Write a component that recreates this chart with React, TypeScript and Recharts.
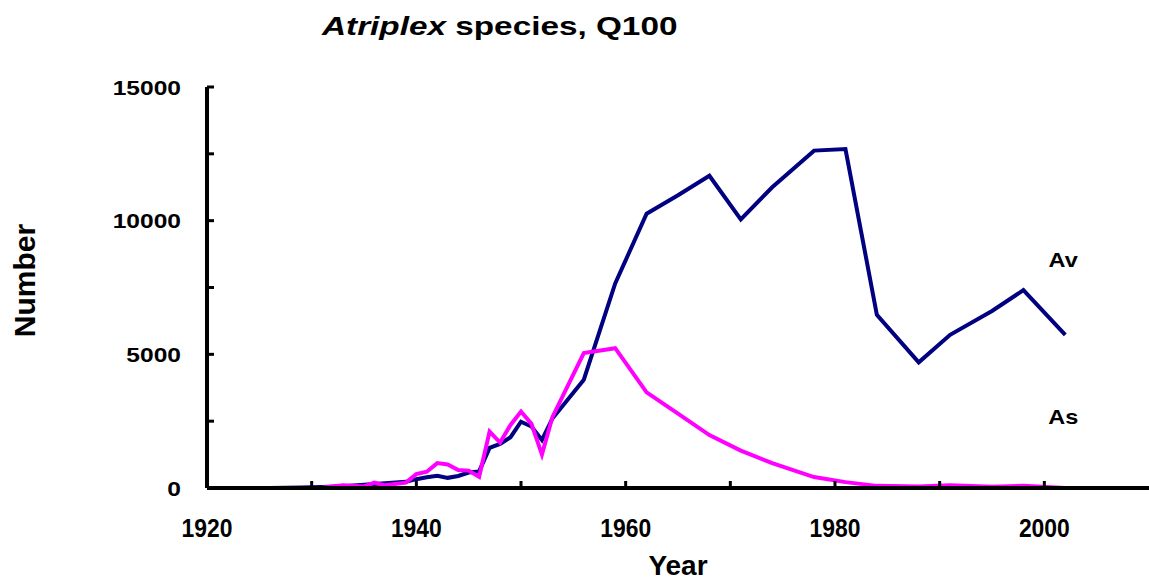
import React from 'react';
import { LineChart, Line, XAxis, YAxis, ReferenceDot } from 'recharts';

const FONT = '"Liberation Sans", Arial, sans-serif';

// survey years (both species share the same sampling years)
const years = [
  1926, 1929, 1931, 1933, 1935, 1936, 1937, 1939, 1940, 1941, 1942, 1943, 1944, 1945, 1946,
  1947, 1948, 1949, 1950, 1951, 1952, 1953, 1956, 1959, 1962, 1965, 1968, 1971, 1974, 1978,
  1981, 1984, 1988, 1991, 1995, 1998, 2002,
];
const avValues = [
  0, 20, 40, 70, 120, 150, 180, 230, 330, 400, 460, 380, 450, 580, 620,
  1500, 1650, 1900, 2480, 2300, 1800, 2600, 4050, 7650, 10260, 10950, 11680, 10050, 11250, 12620,
  12680, 6480, 4700, 5730, 6620, 7400, 5730,
];
const asValues = [
  0, 0, 10, 100, 60, 200, 100, 200, 520, 610, 930, 880, 670, 650, 420,
  2110, 1700, 2360, 2860, 2400, 1250, 2650, 5050, 5230, 3580, 2780, 1980, 1400, 930, 410,
  220, 80, 60, 100, 50, 80, 0,
];

const xTicks = [1920, 1930, 1940, 1950, 1960, 1970, 1980, 1990, 2000];
const xTickLabels = [1920, 1940, 1960, 1980, 2000];
const yTicks = [0, 2500, 5000, 7500, 10000, 12500, 15000];
const yTickLabels = [0, 5000, 10000, 15000];

const seriesLabels = [
  { name: 'Av', year: 2001.8, value: 8530 },
  { name: 'As', year: 2001.8, value: 2690 },
];

const data = years.map((year, i) => ({ year, Av: avValues[i], As: asValues[i] }));

const XTick = (props: any) => {
  const { x, y, payload } = props;
  const show = xTickLabels.includes(payload.value);
  return (
    <g>
      <line x1={x} y1={y} x2={x} y2={y - 7} stroke="#000" strokeWidth={3} />
      {show && (
        <text
          transform={`translate(${x},${y + 49}) scale(0.88,1)`}
          textAnchor="middle"
          fontSize={26}
          fontWeight="bold"
          fontFamily={FONT}
          fill="#000"
        >
          {payload.value}
        </text>
      )}
    </g>
  );
};

const YTick = (props: any) => {
  const { x, y, payload } = props;
  const show = yTickLabels.includes(payload.value);
  return (
    <g>
      <line x1={x} y1={y} x2={x + 7} y2={y} stroke="#000" strokeWidth={3} />
      {show && (
        <text
          transform={`translate(${x - 26},${y + 7.5}) scale(1.17,1)`}
          textAnchor="end"
          fontSize={21}
          fontWeight="bold"
          fontFamily={FONT}
          fill="#000"
        >
          {payload.value}
        </text>
      )}
    </g>
  );
};

const seriesLabel = (text: string) => (props: any) => {
  const vb = props.viewBox;
  const cx = vb.x + vb.width / 2;
  const cy = vb.y + vb.height / 2;
  return (
    <text
      transform={`translate(${cx},${cy + 7.5}) scale(1.12,1)`}
      textAnchor="middle"
      fontSize={21}
      fontWeight="bold"
      fontFamily={FONT}
      fill="#000"
    >
      {text}
    </text>
  );
};

export default function App() {
  return (
    <div style={{ position: 'absolute', left: 0, top: 0, width: 1149, height: 582, background: '#fff' }}>
      <svg width={1149} height={60} style={{ position: 'absolute', left: 0, top: 0 }}>
        <text
          transform="translate(322,35) scale(1.333,1)"
          fontSize={25}
          fontWeight="bold"
          fontFamily={FONT}
          fill="#000"
        >
          <tspan fontStyle="italic">Atriplex</tspan> species, Q100
        </text>
      </svg>
      <LineChart
        width={1149}
        height={582}
        data={data}
        margin={{ top: 87, right: 0, left: 0, bottom: 0 }}
        style={{ position: 'absolute', left: 0, top: 0 }}
      >
        <XAxis
          dataKey="year"
          type="number"
          domain={[1920, 2010]}
          ticks={xTicks}
          interval={0}
          height={94}
          tickSize={0}
          tickMargin={0}
          tickLine={false}
          tick={<XTick />}
          axisLine={{ stroke: '#000', strokeWidth: 4 }}
          allowDataOverflow
          label={{
            content: (p: any) => (
              <text
                x={p.viewBox.x + p.viewBox.width / 2}
                y={p.viewBox.y + 87}
                textAnchor="middle"
                fontSize={28}
                fontWeight="bold"
                fontFamily={FONT}
                fill="#000"
              >
                Year
              </text>
            ),
          }}
        />
        <YAxis
          type="number"
          domain={[0, 15000]}
          ticks={yTicks}
          interval={0}
          width={207}
          tickSize={0}
          tickMargin={0}
          tickLine={false}
          tick={<YTick />}
          axisLine={{ stroke: '#000', strokeWidth: 4 }}
          label={{
            content: (p: any) => {
              const cx = p.viewBox.x + 35;
              const cy = p.viewBox.y + p.viewBox.height / 2 - 7;
              return (
                <text
                  transform={`translate(${cx},${cy}) rotate(-90)`}
                  textAnchor="middle"
                  fontSize={30}
                  fontWeight="bold"
                  fontFamily={FONT}
                  fill="#000"
                >
                  Number
                </text>
              );
            },
          }}
        />
        <Line
          type="linear"
          dataKey="Av"
          stroke="#000080"
          strokeWidth={4}
          dot={false}
          isAnimationActive={false}
        />
        <Line
          type="linear"
          dataKey="As"
          stroke="#ff00ff"
          strokeWidth={4}
          dot={false}
          isAnimationActive={false}
        />
        {seriesLabels.map((s) => (
          <ReferenceDot
            key={s.name}
            x={s.year}
            y={s.value}
            r={2}
            fill="none"
            stroke="none"
            label={seriesLabel(s.name)}
          />
        ))}
      </LineChart>
    </div>
  );
}
